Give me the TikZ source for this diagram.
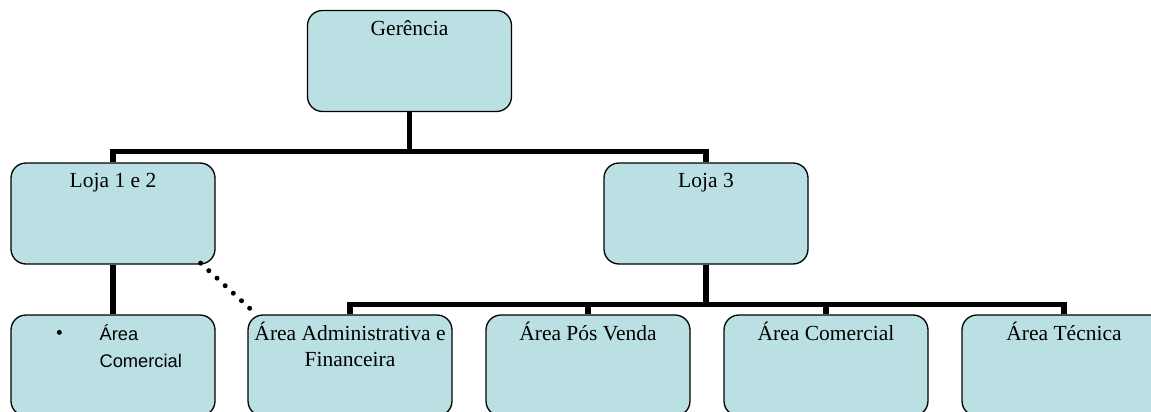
\documentclass[tikz,border=0pt]{standalone}
\usepackage{fontspec}
\setmainfont{Liberation Serif}
\newfontfamily\arialfont{Liberation Sans}
\usepackage{tikz}
\usetikzlibrary{ positioning, % For easy node-relative placements
               }

\definecolor{boxblue}{RGB}{187,224,227}

\tikzset{
  unit/.style={draw=black, line width=1.3pt, fill=boxblue, rounded corners=15pt,
               minimum width=204pt, minimum height=101pt, inner sep=0pt},
  title/.style={anchor=north, font=\fontsize{21.5}{26}\selectfont, align=center, inner sep=0pt},
  link/.style={line width=5.5pt},
}

\begin{document}
\begin{tikzpicture}[x=1pt, y=-1pt] % pixel grid, y goes down
  \clip (0,0) rectangle (1151,412);

  \node[unit] (gerencia) at (409.5,61) {};
  \node[unit] (loja_um_dois) at (113,213.5) {};
  \node[unit] (loja_tres) at (706,213.5) {};

  \node[unit] (comercial_loja) at (113,365.5) {};
  \node[unit] (administrativa) at (350,365.5) {};
  \node[unit] (pos_venda) at (588,365.5) {};
  \node[unit] (comercial) at (826,365.5) {};
  \node[unit] (tecnica) at (1064,365.5) {};

  \node[title] (t_gerencia) at ([yshift=-10pt]gerencia.north) {Gerência};
  \node[title] (t_loja_um_dois) at ([yshift=-11pt]loja_um_dois.north) {Loja 1 e 2};
  \node[title] (t_loja_tres) at ([yshift=-11pt]loja_tres.north) {Loja 3};
  \node[title] (t_administrativa) at ([yshift=-7pt]administrativa.north) {Área Administrativa e\\Financeira};
  \node[title] (t_pos_venda) at ([yshift=-7pt]pos_venda.north) {Área Pós Venda};
  \node[title] (t_comercial) at ([yshift=-7pt]comercial.north) {Área Comercial};
  \node[title] (t_tecnica) at ([yshift=-7pt]tecnica.north) {Área Técnica};

  % bullet box is set in a sans font
  \node[anchor=north west, inner sep=0pt, font=\arialfont\fontsize{18.3}{27}\selectfont, align=left]
    (t_comercial_loja) at ([xshift=89pt,yshift=-10pt]comercial_loja.north west) {Área\\Comercial};
  \node[circle, fill=black, inner sep=0pt, minimum size=5pt]
    (bullet) at ([xshift=-40pt,yshift=-8pt]t_comercial_loja.north west) {};

  \draw[link] (gerencia.south) -- ++(0,39.5) -| (loja_um_dois.north);
  \draw[link] (gerencia.south) -- ++(0,39.5) -| (loja_tres.north);

  \draw[link] (loja_um_dois.south) -- (comercial_loja.north);

  \draw[link] (loja_tres.south) -- ++(0,40) -| (administrativa.north);
  \draw[link] (loja_tres.south) -- ++(0,40) -| (pos_venda.north);
  \draw[link] (loja_tres.south) -- ++(0,40) -| (comercial.north);
  \draw[link] (loja_tres.south) -- ++(0,40) -| (tecnica.north);

  \draw[line width=5pt, line cap=round, dash pattern=on 0pt off 11.1pt]
    ([xshift=-15pt,yshift=1.5pt]loja_um_dois.south east) -- ([xshift=10pt,yshift=-1pt]administrativa.north west);

\end{tikzpicture}
\end{document}
